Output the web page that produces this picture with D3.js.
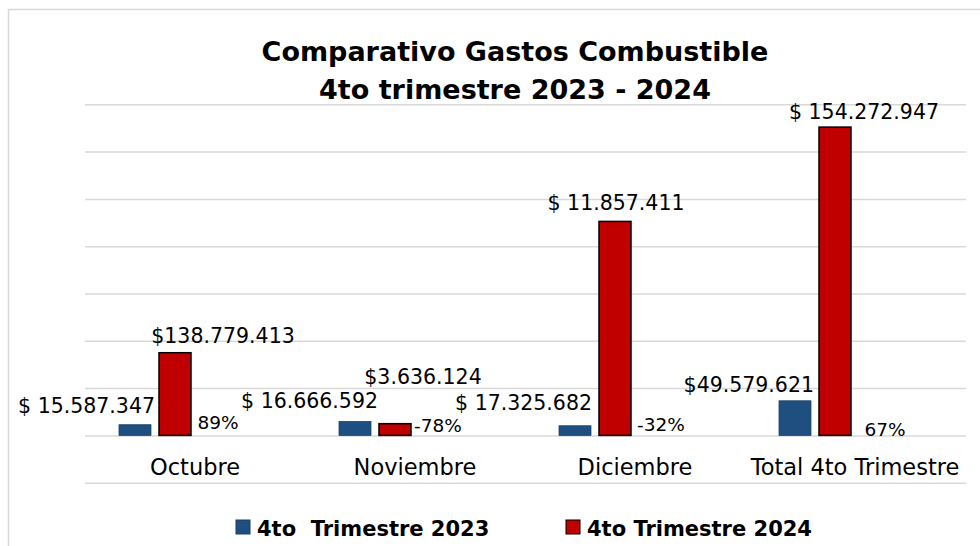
<!DOCTYPE html>
<html>
<head>
<meta charset="utf-8">
<script src="https://cdn.jsdelivr.net/npm/d3@7"></script>
<style>
  html, body { margin: 0; padding: 0; background: #fff; }
  text { font-family: 'DejaVu Sans', sans-serif; }
</style>
</head>
<body>
<script>
// categories and series
var categories = ['Octubre', 'Noviembre', 'Diciembre', 'Total 4to Trimestre'];
var seriesNames = ['4to  Trimestre 2023', '4to Trimestre 2024'];

// bar heights (pesos)
var values2023 = [11300000, 14800000, 10200000, 36600000];
var values2024 = [87400000, 12400000, 226200000, 325900000];
var changePct = [0.89, -0.78, -0.32, 0.67];

// data labels as printed on the chart
var labels2023 = ['$ 15.587.347', '$ 16.666.592', '$ 17.325.682', '$49.579.621'];
var labels2024 = ['$138.779.413', '$3.636.124', '$ 11.857.411', '$ 154.272.947'];
var labelsPct = ['89%', '-78%', '-32%', '67%'];

var w = 980, h = 546;
var left = 85, right = 966,
  yBottom = 482.7, yTop = 104.3;

var svg = d3.select('body')
  .append('svg')
  .attr('width', w)
  .attr('height', h);

svg.append('rect')
  .attr('width', w).attr('height', h)
  .attr('fill', '#fff');

// chart area border (only left and top are in view)
svg.append('path')
  .attr('d', 'M8.5,' + h + 'V9.5H' + w)
  .attr('fill', 'none')
  .attr('stroke', '#d9d9d9')
  .attr('stroke-width', 1.5);

var x0 = d3.scaleBand()
  .domain(categories)
  .range([left, left + 880])
  .paddingInner(0.309)
  .paddingOuter(0.1545);

var x1 = d3.scaleBand()
  .domain(['2023', '2024', 'pct', 'blank'])
  .range([0, x0.bandwidth()])
  .paddingInner(0.2);

var y = d3.scaleLinear()
  .domain([-50000000, 350000000])
  .range([yBottom, yTop]);

// gridlines
svg.append('g')
  .attr('transform', 'translate(' + left + ',0)')
  .call(d3.axisLeft(y).ticks(8).tickSize(-(right - left)).tickFormat(''))
  .call(function (g) {
    g.select('.domain').remove();
    g.selectAll('.tick line').attr('stroke', '#d9d9d9').attr('stroke-width', 1.5);
  });

// title
var title = svg.append('text')
  .attr('text-anchor', 'middle')
  .attr('font-weight', 'bold')
  .attr('font-size', '27px')
  .attr('fill', '#000');
title.append('tspan').attr('x', 515).attr('y', 61)
  .text('Comparativo Gastos Combustible');
title.append('tspan').attr('x', 515).attr('y', 99)
  .text('4to trimestre 2023 - 2024');

var groups = svg.selectAll('g.cat').data(categories)
  .enter()
  .append('g')
  .attr('class', 'cat')
  .attr('transform', function (d) {
    return 'translate(' + x0(d) + ',0)';
  });

// 2023 bars
groups.append('rect')
  .attr('x', x1('2023'))
  .attr('y', function (d, i) { return y(values2023[i]); })
  .attr('width', x1.bandwidth())
  .attr('height', function (d, i) { return y(0) - y(values2023[i]); })
  .attr('fill', '#1f4e80')
  .attr('stroke', '#1a3f68')
  .attr('stroke-width', 0.75);

// 2024 bars
groups.append('rect')
  .attr('x', x1('2024'))
  .attr('y', function (d, i) { return y(values2024[i]); })
  .attr('width', x1.bandwidth())
  .attr('height', function (d, i) { return y(0) - y(values2024[i]); })
  .attr('fill', '#c00000')
  .attr('stroke', '#000')
  .attr('stroke-width', 1.5);

// change series has no fill, only its labels show
groups.append('rect')
  .attr('x', x1('pct'))
  .attr('y', function (d, i) { return Math.min(y(0), y(changePct[i])); })
  .attr('width', x1.bandwidth())
  .attr('height', function (d, i) { return Math.abs(y(0) - y(changePct[i])); })
  .attr('fill', 'none');

// label nudges (label layout was moved by hand in the original)
var nudge2023 = [[4, -12], [7, -13], [1, -16], [3, -9]];
var nudge2024 = [[48, -10], [28, -40], [1, -11], [29, -8]];
var nudgePct = [[3, -6], [3, -3], [6, -4], [10, 1]];

groups.append('text')
  .attr('x', function (d, i) { return x1('2023') + x1.bandwidth() + nudge2023[i][0]; })
  .attr('y', function (d, i) { return y(values2023[i]) + nudge2023[i][1]; })
  .attr('text-anchor', 'end')
  .attr('font-size', '20.5px')
  .attr('fill', '#000')
  .text(function (d, i) { return labels2023[i]; });

groups.append('text')
  .attr('x', function (d, i) { return x1('2024') + x1.bandwidth() / 2 + nudge2024[i][0]; })
  .attr('y', function (d, i) { return y(values2024[i]) + nudge2024[i][1]; })
  .attr('text-anchor', 'middle')
  .attr('font-size', '20.5px')
  .attr('fill', '#000')
  .text(function (d, i) { return labels2024[i]; });

groups.append('text')
  .attr('x', function (d, i) { return x1('pct') + x1.bandwidth() / 2 + nudgePct[i][0]; })
  .attr('y', function (d, i) { return y(0) + nudgePct[i][1]; })
  .attr('text-anchor', 'middle')
  .attr('font-size', '18.5px')
  .attr('fill', '#000')
  .text(function (d, i) { return labelsPct[i]; });

// category labels
groups.append('text')
  .attr('x', x0.bandwidth() / 2)
  .attr('y', 474.5)
  .attr('text-anchor', 'middle')
  .attr('font-size', '22.5px')
  .attr('fill', '#000')
  .text(function (d) { return d; });

// legend
var legendX = [236, 566];
var legendColors = ['#1f4e80', '#c00000'];
var legendStroke = ['#1a3f68', '#000'];
var legend = svg.selectAll('g.legend').data(seriesNames)
  .enter()
  .append('g')
  .attr('class', 'legend')
  .attr('transform', function (d, i) {
    return 'translate(' + legendX[i] + ',520)';
  });

legend.append('rect')
  .attr('width', 14)
  .attr('height', 14)
  .attr('fill', function (d, i) { return legendColors[i]; })
  .attr('stroke', function (d, i) { return legendStroke[i]; })
  .attr('stroke-width', 1);

legend.append('text')
  .attr('x', 21)
  .attr('y', 15.5)
  .attr('font-size', '21px')
  .attr('font-weight', 'bold')
  .style('white-space', 'pre')
  .attr('fill', '#000')
  .text(function (d) { return d; });
</script>
</body>
</html>
